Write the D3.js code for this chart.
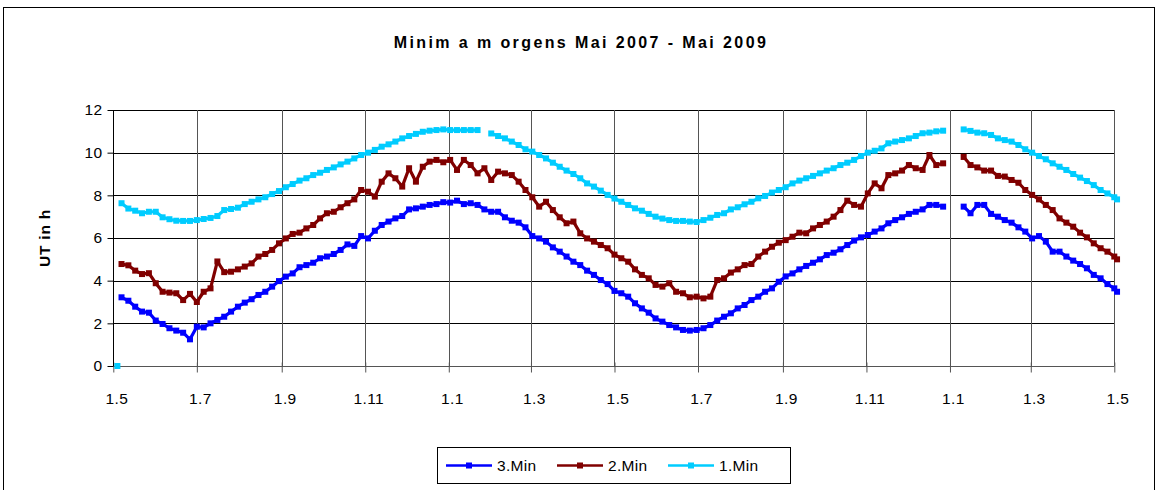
<!DOCTYPE html>
<html><head><meta charset="utf-8">
<script src="https://cdn.jsdelivr.net/npm/d3@7"></script>
<style>
html,body{margin:0;padding:0;background:#fff;}
svg{display:block;font-family:"Liberation Sans",Arial,sans-serif;}
</style></head>
<body>
<svg id="chart" width="1158" height="490"></svg>
<script>
// ---- data ----
const startDate = Date.UTC(2007, 4, 1);           // 1.5.2007
const endDate = Date.UTC(2009, 4, 1);             // 1.5.2009
const days = [...d3.range(6, 732, 5), 733];        // day offsets of the readings
const seriesNames = ["3.Min", "2.Min", "1.Min"];
const seriesColors = ["#0000FF", "#800000", "#00CCFF"];
const yTicks = [0, 2, 4, 6, 8, 10, 12];
const xTickMonths = ["1.5", "1.7", "1.9", "1.11", "1.1", "1.3", "1.5", "1.7", "1.9", "1.11", "1.1", "1.3", "1.5"];
const min1Zero = { day: 3, value: 0 };

const min1 = [
  7.63, 7.38, 7.28, 7.16, 7.23, 7.23, 6.97, 6.88, 6.81, 6.80, 6.80, 6.84, 6.89, 6.94, 7.03, 7.31, 7.36, 7.42, 7.59, 7.70, 7.81, 7.91, 8.06, 8.20,
  8.38, 8.53, 8.69, 8.80, 8.95, 9.06, 9.19, 9.31, 9.45, 9.58, 9.73, 9.89, 10.0, 10.13, 10.28, 10.39, 10.52, 10.67, 10.78, 10.88, 10.98, 11.03, 11.06, 11.09,
  11.06, 11.06, 11.06, 11.06, 11.06, null, 10.90, 10.78, 10.67, 10.52, 10.36, 10.16, 10.05, 9.89, 9.73, 9.53, 9.34, 9.16, 9.00, 8.80, 8.56, 8.41, 8.22, 8.02, 7.85,
  7.70, 7.55, 7.39, 7.28, 7.13, 7.00, 6.91, 6.84, 6.80, 6.80, 6.77, 6.75, 6.84, 6.95, 7.08, 7.16, 7.34, 7.44, 7.58, 7.70, 7.86, 7.97, 8.13, 8.25, 8.38,
  8.56, 8.69, 8.80, 8.91, 9.03, 9.16, 9.27, 9.42, 9.53, 9.66, 9.84, 10.0, 10.09, 10.20, 10.44, 10.52, 10.59, 10.67, 10.78, 10.91, 10.94, 11.00, 11.03,
  null, null,
  11.09, 11.02, 10.94, 10.91, 10.83, 10.67, 10.59, 10.52, 10.36, 10.16, 10.0, 9.84, 9.69, 9.50, 9.34, 9.19, 9.00, 8.83, 8.67, 8.48, 8.25, 8.09, 7.91,
  7.81
];
const min2 = [
  4.78, 4.72, 4.47, 4.31, 4.35, 3.88, 3.48, 3.44, 3.41, 3.09, 3.38, 3.00, 3.48, 3.64, 4.90, 4.40, 4.42, 4.53, 4.66, 4.81, 5.13, 5.25, 5.44, 5.75,
  5.98, 6.19, 6.25, 6.45, 6.61, 6.92, 7.16, 7.23, 7.44, 7.63, 7.81, 8.25, 8.17, 7.94, 8.64, 9.03, 8.80, 8.41, 9.27, 8.64, 9.34, 9.58, 9.66, 9.55,
  9.66, 9.19, 9.66, 9.42, 9.03, 9.27, 8.72, 9.11, 9.03, 8.95, 8.64, 8.25, 7.91, 7.47, 7.70, 7.31, 6.97, 6.69, 6.77, 6.22, 5.98, 5.83, 5.67, 5.52, 5.22,
  5.05, 4.89, 4.53, 4.27, 4.11, 3.80, 3.72, 3.88, 3.48, 3.41, 3.22, 3.25, 3.17, 3.25, 4.03, 4.11, 4.38, 4.53, 4.73, 4.78, 5.13, 5.36, 5.59, 5.78, 5.90,
  6.06, 6.25, 6.22, 6.45, 6.61, 6.77, 7.00, 7.31, 7.75, 7.55, 7.47, 8.09, 8.56, 8.33, 8.95, 9.03, 9.16, 9.42, 9.27, 9.19, 9.89, 9.42, 9.50,
  null, null,
  9.80, 9.42, 9.31, 9.16, 9.16, 8.91, 8.88, 8.72, 8.59, 8.25, 8.02, 7.81, 7.55, 7.31, 6.92, 6.72, 6.53, 6.25, 6.03, 5.75, 5.52, 5.36, 5.13,
  5.00
];
const min3 = [
  3.22, 3.06, 2.78, 2.55, 2.50, 2.13, 1.97, 1.77, 1.66, 1.56, 1.25, 1.84, 1.81, 2.00, 2.16, 2.31, 2.55, 2.78, 2.97, 3.13, 3.33, 3.48, 3.72, 3.98,
  4.19, 4.34, 4.63, 4.73, 4.84, 5.05, 5.13, 5.25, 5.44, 5.70, 5.63, 6.09, 5.98, 6.34, 6.61, 6.77, 6.92, 7.03, 7.34, 7.39, 7.47, 7.55, 7.59, 7.68,
  7.66, 7.75, 7.59, 7.63, 7.55, 7.34, 7.23, 7.23, 6.97, 6.81, 6.72, 6.50, 6.09, 5.98, 5.83, 5.56, 5.36, 5.13, 4.89, 4.73, 4.47, 4.27, 4.03, 3.84, 3.52,
  3.41, 3.25, 2.94, 2.70, 2.50, 2.23, 2.08, 1.92, 1.81, 1.69, 1.66, 1.69, 1.77, 1.92, 2.13, 2.31, 2.47, 2.70, 2.86, 3.09, 3.25, 3.48, 3.64, 3.95, 4.20,
  4.34, 4.53, 4.69, 4.84, 5.00, 5.20, 5.31, 5.47, 5.67, 5.88, 6.03, 6.14, 6.30, 6.45, 6.69, 6.84, 6.97, 7.13, 7.23, 7.34, 7.55, 7.55, 7.47,
  null, null,
  7.47, 7.16, 7.55, 7.55, 7.13, 7.00, 6.84, 6.72, 6.50, 6.30, 5.98, 6.09, 5.83, 5.36, 5.36, 5.13, 4.94, 4.78, 4.58, 4.27, 4.11, 3.84, 3.64,
  3.48
];

// ---- layout ----
const plot = { left: 113.3, right: 1114.3, top: 110, bottom: 366 };
const svg = d3.select("#chart");

const dayToDate = d => new Date(startDate + d * 86400000);
const x = d3.scaleUtc().domain([new Date(startDate), new Date(endDate)]).range([plot.left, plot.right]);
const y = d3.scaleLinear().domain([0, 12]).range([plot.bottom, plot.top]);

// outer chart border
svg.append("rect").attr("x", 3.5).attr("y", 7.5).attr("width", 1151).attr("height", 490)
  .attr("fill", "#fff").attr("stroke", "#000").attr("stroke-width", 1);

// title
svg.append("text").attr("x", 581).attr("y", 48).attr("text-anchor", "middle")
  .attr("font-size", 16).attr("font-weight", "bold").attr("letter-spacing", 2.4)
  .text("Minim a m orgens Mai 2007 - Mai 2009");

// y axis title
svg.append("text").attr("transform", "translate(50,238) rotate(-90)").attr("text-anchor", "middle")
  .attr("font-size", 15.5).attr("font-weight", "bold").attr("letter-spacing", 0.8).text("UT in h");

// horizontal gridlines
svg.append("g").selectAll("line").data(yTicks.filter(v => v > 0)).join("line")
  .attr("x1", plot.left).attr("x2", plot.right)
  .attr("y1", d => Math.round(y(d)) + 0.5).attr("y2", d => Math.round(y(d)) + 0.5)
  .attr("stroke", "#000").attr("stroke-width", 1);

// vertical gridlines
const monthTicks = d3.utcMonth.every(2).range(new Date(startDate), new Date(endDate + 1));
svg.append("g").selectAll("line").data(monthTicks.slice(1)).join("line")
  .attr("x1", d => Math.round(x(d)) + 0.5).attr("x2", d => Math.round(x(d)) + 0.5)
  .attr("y1", plot.top).attr("y2", plot.bottom)
  .attr("stroke", "#555").attr("stroke-width", 1);

// x axis
const xAxis = d3.axisBottom(x).tickValues(monthTicks).tickSize(6).tickPadding(20)
  .tickFormat((d, i) => xTickMonths[i]);
const gx = svg.append("g").attr("transform", `translate(0,${plot.bottom + 0.5})`).call(xAxis);
gx.select(".domain").attr("stroke", "#555").attr("d", `M${plot.left},0H${plot.right}`);
gx.selectAll(".tick line").attr("stroke", "#555").attr("y1", -4).attr("y2", 6);
gx.selectAll(".tick text").attr("font-size", 15.5).attr("font-family", "Liberation Sans, Arial, sans-serif")
  .attr("fill", "#000").attr("dx", 3).attr("letter-spacing", 0.4);

// y axis
const yAxis = d3.axisLeft(y).tickValues(yTicks).tickSize(6).tickPadding(5);
const gy = svg.append("g").attr("transform", `translate(${Math.round(plot.left) + 0.5},0)`).call(yAxis);
gy.select(".domain").attr("stroke", "#000").attr("d", `M0,${plot.top}V${plot.bottom}`);
gy.selectAll(".tick line").attr("stroke", "#000");
gy.selectAll(".tick text").attr("font-size", 15.5).attr("font-family", "Liberation Sans, Arial, sans-serif")
  .attr("fill", "#000").attr("letter-spacing", 0.4);

// series
const seriesValues = [min3, min2, min1];
const MS = 6;
seriesValues.forEach((vals, si) => {
  const pts = days.map((d, i) => ({ d, v: vals[i] }));
  const line = d3.line().defined(p => p.v != null).x(p => x(dayToDate(p.d))).y(p => y(p.v));
  const g = svg.append("g");
  g.append("path").attr("d", line(pts)).attr("fill", "none")
    .attr("stroke", seriesColors[si]).attr("stroke-width", 3.2).attr("stroke-linejoin", "round");
  g.selectAll("rect").data(pts.filter(p => p.v != null)).join("rect")
    .attr("x", p => x(dayToDate(p.d)) - MS / 2).attr("y", p => y(p.v) - MS / 2)
    .attr("width", MS).attr("height", MS).attr("fill", seriesColors[si]);
});
// isolated zero reading of 1.Min
svg.append("rect").attr("x", x(dayToDate(min1Zero.day)) - MS / 2).attr("y", y(min1Zero.value) - MS / 2)
  .attr("width", MS).attr("height", MS).attr("fill", seriesColors[2]);

// legend
const lg = svg.append("g");
lg.append("rect").attr("x", 437.5).attr("y", 447.5).attr("width", 353).attr("height", 36)
  .attr("fill", "#fff").attr("stroke", "#000");
const legendX = [446, 557, 668];
seriesNames.forEach((name, i) => {
  const lx = legendX[i];
  lg.append("line").attr("x1", lx).attr("x2", lx + 46).attr("y1", 465.5).attr("y2", 465.5)
    .attr("stroke", seriesColors[i]).attr("stroke-width", 2.5);
  lg.append("rect").attr("x", lx + 23 - 3).attr("y", 465.5 - 3).attr("width", 6).attr("height", 6)
    .attr("fill", seriesColors[i]);
  lg.append("text").attr("x", lx + 51).attr("y", 471).attr("font-size", 15.5).attr("letter-spacing", 0.3).text(name);
});
</script>
</body></html>
